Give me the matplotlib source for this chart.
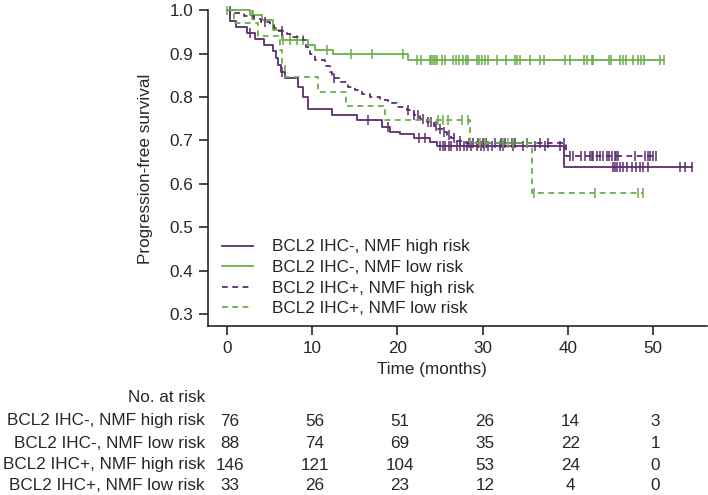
import numpy as np
import matplotlib
matplotlib.use('Agg')
import matplotlib.pyplot as plt
from matplotlib.lines import Line2D
from matplotlib.transforms import blended_transform_factory

plt.rcParams['font.family'] = ['Liberation Sans', 'DejaVu Sans']

# ---- data ----
labels = ['BCL2 IHC-, NMF high risk', 'BCL2 IHC-, NMF low risk',
          'BCL2 IHC+, NMF high risk', 'BCL2 IHC+, NMF low risk']

# IHC-, NMF high risk
ev_t1 = [0.4, 1.0, 2.4, 3.3, 4.4, 5.4, 5.8, 6.0, 6.3, 6.8, 8.3, 8.9, 9.5, 12.3,
         15.2, 18.2, 19.1, 20.3, 21.9, 23.8, 24.6, 39.5]
ev_s1 = [0.975, 0.961, 0.947, 0.934, 0.920, 0.905, 0.890, 0.873, 0.857, 0.843,
         0.823, 0.800, 0.773, 0.758, 0.746, 0.731, 0.720, 0.714, 0.706, 0.697,
         0.686, 0.638]
cens1 = [2.7, 6.5, 16.6, 18.9, 22.5, 23.2, 25.0, 25.3, 25.6, 26.0, 26.3, 27.0,
         27.4, 27.8, 28.2, 28.6, 29.3, 29.8, 30.2, 30.6, 31.1, 32.0, 32.4, 33.6,
         34.7, 36.2, 37.3, 39.1, 45.3, 45.5, 45.8, 46.1, 46.5, 46.9, 47.5, 48.0,
         48.5, 48.8, 49.4, 53.2, 53.8, 54.6]

# IHC-, NMF low risk
ev_t2 = [2.7, 4.1, 5.4, 6.4, 9.5, 10.3, 12.4, 21.3]
ev_s2 = [0.989, 0.977, 0.955, 0.932, 0.920, 0.909, 0.898, 0.884]
cens2 = [0.0, 2.9, 3.1, 6.6, 7.4, 8.2, 8.9, 11.7, 14.6, 17.0, 20.6, 22.3, 22.8,
         23.8, 24.0, 24.2, 24.4, 24.6, 25.2, 25.6, 26.5, 26.9, 27.2, 27.7, 28.0,
         28.3, 29.3, 29.6, 29.9, 30.3, 30.6, 31.7, 32.7, 33.8, 34.0, 34.4, 35.6,
         36.7, 37.2, 39.7, 40.3, 41.9, 42.2, 42.8, 43.0, 44.8, 45.1, 46.1, 46.5,
         46.8, 47.6, 48.2, 48.6, 49.0, 50.8, 51.3]

# IHC+, NMF high risk
ev_t3 = [0.8, 2.0, 3.2, 4.0, 5.0, 5.5, 6.0, 7.0, 7.8, 8.9, 9.3, 9.7, 10.3, 11.5,
         12.1, 12.3, 13.3, 14.2, 15.0, 15.8, 16.8, 18.0, 18.9, 19.9, 21.1, 21.9,
         22.7, 23.5, 24.3, 24.8, 25.3, 25.8, 26.3, 27.0, 28.0, 39.8]
ev_s3 = [0.993, 0.986, 0.979, 0.972, 0.965, 0.958, 0.951, 0.944, 0.937, 0.930,
         0.915, 0.900, 0.885, 0.872, 0.858, 0.843, 0.834, 0.823, 0.815, 0.806,
         0.800, 0.792, 0.785, 0.777, 0.770, 0.758, 0.750, 0.742, 0.734, 0.727,
         0.720, 0.712, 0.705, 0.698, 0.693, 0.663]
cens3 = [0.3, 4.5, 6.4, 12.6, 21.3, 22.0, 22.4, 23.0, 23.6, 24.0, 24.5, 25.0,
         25.5, 26.0, 26.6, 27.3, 28.4, 28.9, 29.5, 30.0, 30.4, 31.5, 32.2, 32.6,
         33.5, 33.8, 35.2, 36.7, 37.7, 39.6, 40.3, 40.6, 41.6, 42.0, 42.6, 42.8,
         43.0, 43.4, 43.8, 44.1, 44.6, 44.8, 45.2, 45.5, 45.7, 45.9, 47.9, 49.1,
         49.4, 49.6, 50.0, 50.4]

# IHC+, NMF low risk
ev_t4 = [0.8, 3.6, 6.2, 6.5, 6.8, 10.7, 14.0, 18.5, 28.5, 35.8]
ev_s4 = [0.970, 0.940, 0.909, 0.879, 0.846, 0.811, 0.778, 0.746, 0.693, 0.578]
cens4 = [24.8, 25.4, 25.9, 27.6, 28.3, 29.7, 30.3, 32.4, 33.0, 33.6, 35.2, 36.0,
         43.2, 48.2, 48.8]

risk_times = [0, 10, 20, 30, 40, 50]
at_risk = [[76, 56, 51, 26, 14, 3],
           [88, 74, 69, 35, 22, 1],
           [146, 121, 104, 53, 24, 0],
           [33, 26, 23, 12, 4, 0]]

purple = '#5b2c6f'
green = '#6aaf48'
ink = '#262626'
colors = [purple, green, purple, green]
styles = ['-', '-', (0, (3.2, 2.5)), (0, (3.2, 2.5))]

series = [(ev_t1, ev_s1, cens1), (ev_t2, ev_s2, cens2),
          (ev_t3, ev_s3, cens3), (ev_t4, ev_s4, cens4)]

fig = plt.figure(figsize=(7.08, 4.95), dpi=100)
ax = fig.add_axes([0.2938, 0.3414, 0.7048, 0.647])

fs = 12.3
lw = 1.3
handles = []
for (t, s, c), col, ls, lab in zip(series, colors, styles, labels):
    t_end = max(max(c), t[-1])
    xs = [0] + list(t) + [t_end]
    ys = [1.0] + list(s) + [s[-1]]
    ax.step(xs, ys, where='post', color=col, lw=lw, ls=ls)
    lv = np.array([1.0] + list(s))
    cy = lv[np.searchsorted(t, c, side='right')]
    ax.plot(c, cy, ls='none', marker='|', ms=7.5, mew=1.1, color=col)
    handles.append(Line2D([], [], color=col, lw=lw, ls=ls, label=lab))

ax.set_xlim(-2.23, 56.34)
ax.set_ylim(0.2724, 1.01)
ax.set_xticks(risk_times)
ax.set_yticks([0.3, 0.4, 0.5, 0.6, 0.7, 0.8, 0.9, 1.0])
ax.set_yticklabels(['0.3', '0.4', '0.5', '0.6', '0.7', '0.8', '0.9', '1.0'])
for side in ['top', 'right']:
    ax.spines[side].set_visible(False)
for side in ['left', 'bottom']:
    ax.spines[side].set_linewidth(1.2)
    ax.spines[side].set_color(ink)
ax.spines['left'].set_bounds(0.2724, 1.0)
ax.tick_params(direction='out', length=6.5, width=1.2, color=ink,
               labelsize=fs, labelcolor=ink, pad=4)

ax.set_ylabel('Progression-free survival', fontsize=fs, color=ink)
ax.yaxis.set_label_coords(-0.11, 0.49)
ax.set_xlabel('Time (months)', fontsize=fs, color=ink)
ax.xaxis.set_label_coords(0.449, -0.112)

leg = ax.legend(handles=handles, loc='lower left', bbox_to_anchor=(0.028, 0.03),
                frameon=False, fontsize=fs, handlelength=1.8, handletextpad=1.1,
                labelspacing=0.33, borderpad=0, borderaxespad=0)
for txt in leg.get_texts():
    txt.set_color(ink)

# number at risk table
tr = blended_transform_factory(ax.transData, fig.transFigure)
row_y = [1 - 421 / 495, 1 - 443 / 495, 1 - 465 / 495, 1 - 486 / 495]
fig.text(205 / 708, 1 - 398 / 495, 'No. at risk', ha='right', va='center',
         fontsize=fs, color=ink)
for lab, counts, yy in zip(labels, at_risk, row_y):
    fig.text(205 / 708, yy, lab, ha='right', va='center', fontsize=fs,
             color=ink)
    for t, n in zip(risk_times, counts):
        fig.text(t + 0.3, yy, str(n), ha='center', va='center', fontsize=fs,
                 color=ink, transform=tr)

fig.savefig('out.png', dpi=100)
